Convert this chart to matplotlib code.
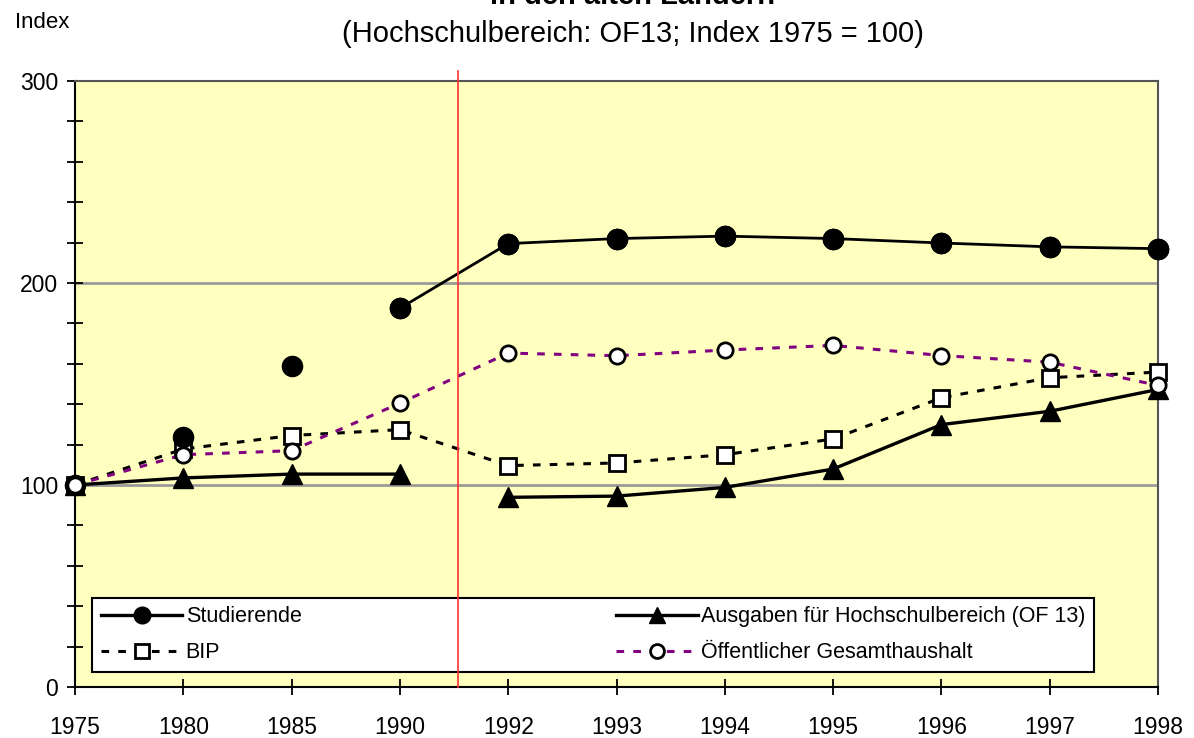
import matplotlib.pyplot as plt
from matplotlib.lines import Line2D

plt.rcParams['font.family'] = ['Liberation Sans', 'DejaVu Sans']

years = ['1975', '1980', '1985', '1990', '1992', '1993',
         '1994', '1995', '1996', '1997', '1998']
studierende = [100, 123.6, 158.7, 187.5, 219.5, 222, 223.2, 222,
               219.8, 217.9, 217]
ausgaben = [100, 103.5, 105.4, 105.4, 93.9, 94.5, 98.8, 107.9,
            129.9, 136.5, 147.3]
bip = [100, 117.8, 124.5, 127.4, 109.6, 110.9, 115, 122.8,
       143.2, 153.1, 155.9]
haushalt = [100, 115, 117, 140.5, 165.3, 164, 166.8, 169.1,
            164.1, 160.8, 149.3]
# Studierende connected only from 1990 on, Ausgaben broken at the reunification
stud_line_from = 3
ausg_break = 4


def main():
    fig = plt.figure(figsize=(11.94, 7.38), dpi=100)
    ax = fig.add_axes([75 / 1194, 1 - 687 / 738, 1083 / 1194, 606 / 738])
    ax.set_facecolor('#ffffc0')
    x = list(range(len(years)))

    # grid lines
    for g in (100, 200):
        ax.axhline(g, color='#9a9a9a', lw=2, zorder=1)

    kw_stud = dict(color='black', marker='o', markersize=14.5,
                   clip_on=False, zorder=4)
    ax.plot(x, studierende, ls='none', **kw_stud)
    ax.plot(x[stud_line_from:], studierende[stud_line_from:], lw=2,
            **kw_stud)

    kw_ausg = dict(color='black', marker='^', markersize=15, lw=2.4,
                   clip_on=False, zorder=3)
    ax.plot(x[:ausg_break], ausgaben[:ausg_break], **kw_ausg)
    ax.plot(x[ausg_break:], ausgaben[ausg_break:], **kw_ausg)

    dash = (0, (2.5, 3))
    ax.plot(x, bip, color='black', lw=2.2, ls=dash, marker='s',
            markersize=12, markerfacecolor='white', markeredgecolor='black',
            markeredgewidth=2, clip_on=False, zorder=3)
    ax.plot(x, haushalt, color='#800080', lw=2.2, ls=dash, marker='o',
            markersize=11, markerfacecolor='white', markeredgecolor='black',
            markeredgewidth=2, clip_on=False, zorder=4)

    # reunification marker
    ax.plot([3.54, 3.54], [0, 305], color='#ff3030', lw=1.2,
            clip_on=False, zorder=10)

    ax.set_xlim(0, 10)
    ax.set_ylim(0, 300)
    ax.set_xticks(x)
    ax.set_xticklabels(years)
    ax.set_yticks([0, 100, 200, 300])
    ax.set_yticks(range(0, 301, 20), minor=True)
    ax.tick_params(axis='both', which='both', direction='inout', length=12,
                   width=1.3, labelsize=16.5)
    ax.tick_params(axis='x', pad=15)
    ax.tick_params(axis='y', pad=6)
    ax.tick_params(axis='x', which='minor', bottom=False)
    for side in ('left', 'bottom'):
        ax.spines[side].set_linewidth(1.5)
        ax.spines[side].set_color('black')
    for side in ('top', 'right'):
        ax.spines[side].set_linewidth(1.5)
        ax.spines[side].set_color('#555555')

    handles = [
        Line2D([], [], color='black', lw=2.4, marker='o', markersize=12),
        Line2D([], [], color='black', lw=2.2, ls=dash, marker='s',
               markersize=10, markerfacecolor='white', markeredgewidth=2),
        Line2D([], [], color='black', lw=2.4, marker='^', markersize=12),
        Line2D([], [], color='#800080', lw=2.2, ls=dash, marker='o',
               markersize=10, markerfacecolor='white',
               markeredgecolor='black', markeredgewidth=2),
    ]
    labels = ['Studierende', 'BIP',
              'Ausgaben für Hochschulbereich (OF 13)',
              'Öffentlicher Gesamthaushalt']
    leg = ax.legend(handles, labels, ncol=2, mode='expand',
                    bbox_to_anchor=(0.0157, 0.0248, 0.925, 0.119),
                    loc='lower left', fontsize=15.5, handlelength=3.8,
                    handletextpad=0.15, numpoints=1, fancybox=False,
                    borderaxespad=0, labelspacing=0.7, borderpad=0.4,
                    framealpha=1, edgecolor='black')
    leg.get_frame().set_linewidth(1.5)
    leg.set_zorder(8)

    fig.text(15 / 1194, 1 - 28 / 738, 'Index', fontsize=16,
             ha='left', va='baseline')
    fig.text(633 / 1194, 1 - 42 / 738,
             '(Hochschulbereich: OF13; Index 1975 = 100)', fontsize=21,
             ha='center', va='baseline')
    fig.text(633 / 1194, 1 - 4 / 738, 'in den alten Ländern', fontsize=21,
             fontweight='bold', ha='center', va='baseline')

    fig.savefig('out.png', dpi=100)


if __name__ == '__main__':
    main()
